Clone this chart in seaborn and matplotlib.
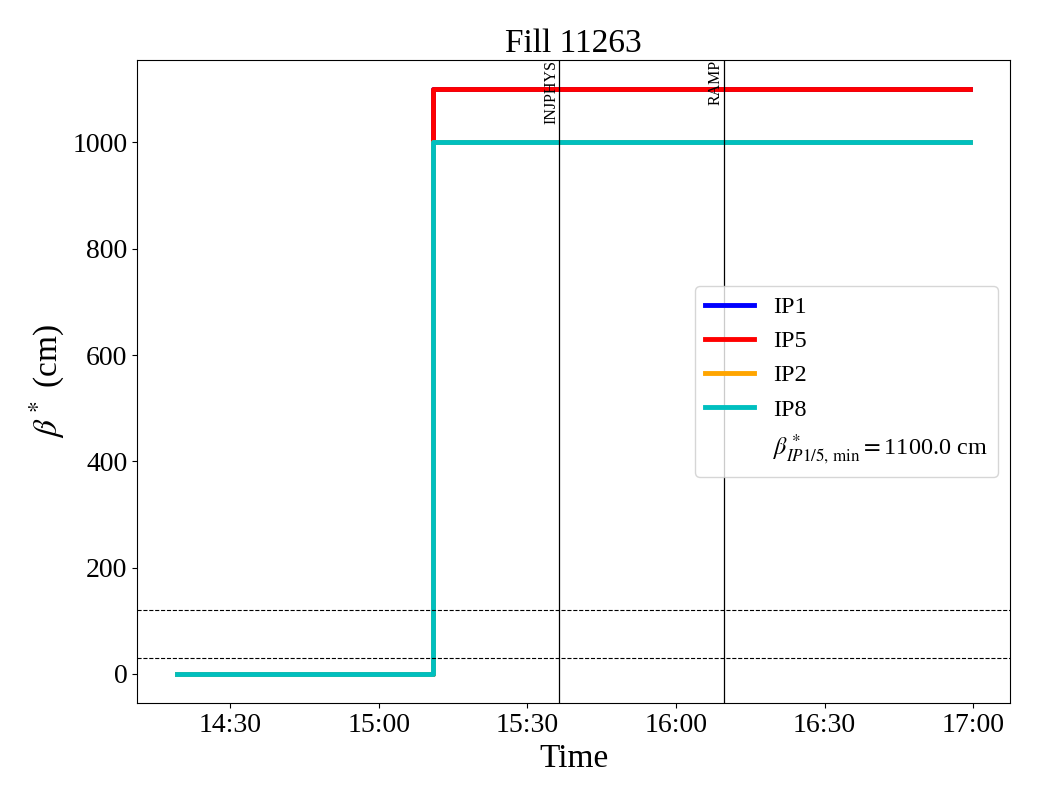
import pandas as pd
import matplotlib
matplotlib.use("Agg")
import matplotlib.pyplot as plt
import matplotlib.dates as mdates
import seaborn as sns

plt.rcParams['font.family'] = ['Liberation Serif', 'DejaVu Serif']
plt.rcParams['mathtext.fontset'] = 'stix'

# beta* per IP
times = pd.to_datetime(['2025-06-01 14:19:17', '2025-06-01 15:11:04', '2025-06-01 16:59:24'])
ip1 = [0, 1100, 1100]
ip5 = [0, 1100, 1100]
ip2 = [0, 1000, 1000]
ip8 = [0, 1000, 1000]
series_names = ['IP1', 'IP5', 'IP2', 'IP8']
series_colors = ['b', 'r', 'orange', 'c']
beta_min = 1100.0

# beam mode markers and reference levels
mode_names = ['INJPHYS', 'RAMP']
mode_times = pd.to_datetime(['2025-06-01 15:36:26', '2025-06-01 16:09:40'])
ref_levels = [30, 120]

df = pd.DataFrame({'Time': list(times) * 4,
                   'beta': ip1 + ip5 + ip2 + ip8,
                   'IP': sum([[n] * len(times) for n in series_names], [])})

fig, ax = plt.subplots(figsize=(10.4, 8), dpi=100)
fig.subplots_adjust(left=0.132, right=0.971, top=0.925, bottom=0.121)

for name, col in zip(series_names, series_colors):
    sub = df[df['IP'] == name]
    sns.lineplot(x='Time', y='beta', data=sub, ax=ax, color=col, lw=3.5,
                 drawstyle='steps-post', label=name)
ax.plot([], [], ' ', label=r'$\beta^*_{IP1/5,\,\min} = $' + f'{beta_min} cm')

for lvl in ref_levels:
    ax.axhline(lvl, color='k', ls='--', lw=0.8)
for name, t in zip(mode_names, mode_times):
    ax.axvline(t, color='k', lw=0.9)
    ax.text(t, 1.0, name, rotation=90, ha='right', va='top', fontsize=11.5,
            transform=ax.get_xaxis_transform())

ax.xaxis.set_major_locator(mdates.MinuteLocator(byminute=[0, 30]))
ax.xaxis.set_major_formatter(mdates.DateFormatter('%H:%M'))
ax.tick_params(labelsize=20)
ax.set_title('Fill 11263', fontsize=24)
ax.set_xlabel('Time', fontsize=24)
ax.set_ylabel(r'$\beta^*$ (cm)', fontsize=24)
ax.legend(loc='center right', fontsize=17.5)

fig.savefig('out.png', dpi=100)
